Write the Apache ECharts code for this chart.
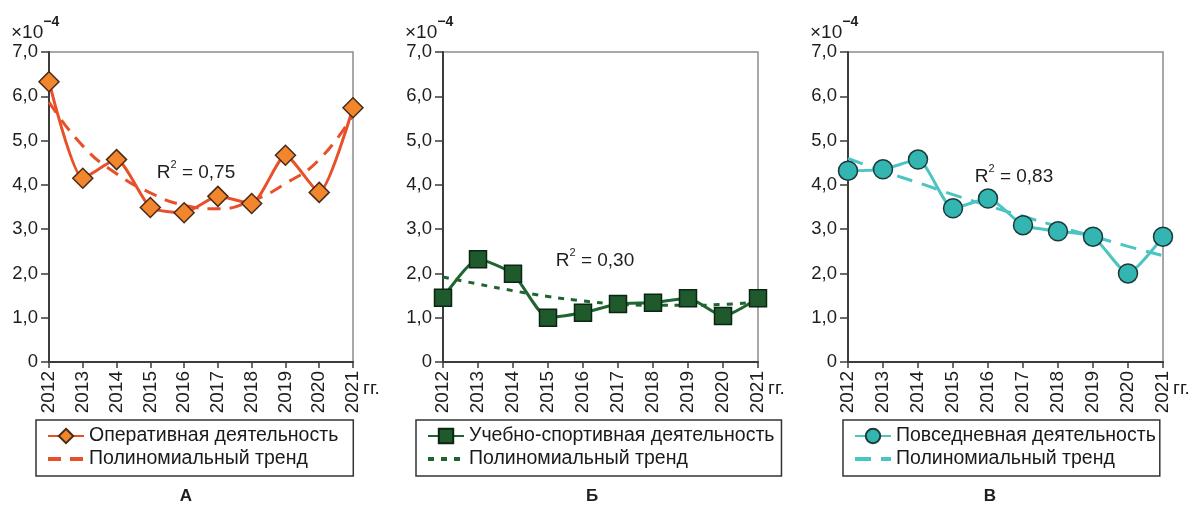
<!DOCTYPE html>
<html>
<head>
<meta charset="utf-8">
<script src="https://cdn.jsdelivr.net/npm/echarts@6/dist/echarts.min.js"></script>
<style>
  html, body { margin: 0; padding: 0; background: #fff; }
  #chart { width: 1194px; height: 508px; }
</style>
</head>
<body>
<div id="chart"></div>
<script>
// Years on the horizontal axis
const years = ['2012', '2013', '2014', '2015', '2016', '2017', '2018', '2019', '2020', '2021'];

// Values in units of 10^-4
const operativeValues = [6.33, 4.15, 4.57, 3.49, 3.37, 3.74, 3.58, 4.67, 3.83, 5.74];
const operativeTrend  = [5.87, 4.88, 4.25, 3.82, 3.54, 3.46, 3.64, 4.03, 4.57, 5.58];

const trainingValues  = [1.45, 2.32, 1.99, 1.00, 1.11, 1.31, 1.34, 1.44, 1.04, 1.44];
const trainingTrend   = [1.92, 1.76, 1.61, 1.48, 1.38, 1.31, 1.28, 1.28, 1.30, 1.35];

const dailyValues     = [4.32, 4.35, 4.57, 3.47, 3.69, 3.09, 2.95, 2.83, 2.00, 2.83];
const dailyTrend      = [4.60, 4.31, 4.05, 3.78, 3.53, 3.29, 3.06, 2.84, 2.61, 2.40];

// Texts
const seriesNames = ['Оперативная деятельность', 'Учебно-спортивная деятельность', 'Повседневная деятельность'];
const trendLabel = 'Полиномиальный тренд';
const r2Labels = ['0,75', '0,30', '0,83'];
const panelLetters = ['А', 'Б', 'В'];

const FONT = '"Liberation Sans", Arial, Helvetica, sans-serif';

// Layout of the three panels
const panels = [
  { left: 49,  width: 304, legendLeft: 36,  legendPadRight: 15, r2x: 196,  r2y: 169, letterX: 186 },
  { left: 443, width: 315, legendLeft: 416, legendPadRight: 7,  r2x: 595,  r2y: 257, letterX: 592 },
  { left: 848, width: 315, legendLeft: 843, legendPadRight: 4,  r2x: 1014, r2y: 173, letterX: 990 }
];
const GRID_TOP = 52, GRID_H = 310;

const styles = [
  { line: '#E8502A', fill: '#F2862C', border: '#4a2a18', symbol: 'diamond', size: 20,
    trendDash: [13, 9] },
  { line: '#1F6530', fill: '#1E5A2C', border: '#0c2412', symbol: 'rect', size: 17,
    trendDash: [6, 7] },
  { line: '#4CC4C2', fill: '#33B6B1', border: '#1b3a3a', symbol: 'circle', size: 19,
    trendDash: [16, 10] }
];
const valueSets = [operativeValues, trainingValues, dailyValues];
const trendSets = [operativeTrend, trainingTrend, dailyTrend];

const grid = [], xAxis = [], yAxis = [], series = [], legend = [], graphic = [];

panels.forEach((p, i) => {
  const st = styles[i];
  grid.push({
    left: p.left, top: GRID_TOP, width: p.width, height: GRID_H,
    show: true, borderColor: '#8c8c8c', borderWidth: 1.5, backgroundColor: 'transparent'
  });
  xAxis.push({
    type: 'category', gridIndex: i, data: years, boundaryGap: false,
    axisLine: { lineStyle: { color: '#3c3c3c', width: 2 } },
    axisTick: { show: true, length: 6, lineStyle: { color: '#3c3c3c', width: 1.5 } },
    axisLabel: { rotate: 90, fontFamily: FONT, fontSize: 19, color: '#1e1e1e', margin: 9 },
    splitLine: { show: false }
  });
  yAxis.push({
    type: 'value', gridIndex: i, min: 0, max: 7, interval: 1,
    axisLine: { show: true, lineStyle: { color: '#3c3c3c', width: 2 } },
    axisTick: { show: true, length: 8, lineStyle: { color: '#3c3c3c', width: 1.5 } },
    axisLabel: {
      fontFamily: FONT, fontSize: 18.5, color: '#1e1e1e', margin: 11,
      formatter: v => v === 0 ? '0' : v.toFixed(1).replace('.', ',')
    },
    splitLine: { show: false }
  });

  const trendName = trendLabel + ' ' + panelLetters[i];
  series.push({
    name: trendName, type: 'line', xAxisIndex: i, yAxisIndex: i,
    data: trendSets[i], smooth: 0.5, symbol: 'none', z: 2,
    lineStyle: { color: st.line, width: 3, type: st.trendDash },
    itemStyle: { color: st.line }
  });
  series.push({
    name: seriesNames[i], type: 'line', xAxisIndex: i, yAxisIndex: i,
    data: valueSets[i], smooth: 0.2, z: 3,
    symbol: st.symbol, symbolSize: st.size,
    lineStyle: { color: st.line, width: 3 },
    itemStyle: { color: st.fill, borderColor: st.border, borderWidth: 1.5 }
  });

  legend.push({
    orient: 'vertical', left: p.legendLeft, top: 420,
    data: [
      { name: seriesNames[i] },
      { name: trendName, itemStyle: { opacity: 0 }, lineStyle: { width: 4 } }
    ],
    formatter: n => n.startsWith(trendLabel) ? trendLabel : n,
    backgroundColor: '#fff', borderColor: '#333', borderWidth: 1.5,
    padding: [6, p.legendPadRight, 7, 10], itemGap: 3, itemWidth: 36, itemHeight: 18,
    selectedMode: false,
    textStyle: { fontFamily: FONT, fontSize: 19.5, color: '#1a1a1a' }
  });

  // multiplier above the value axis
  graphic.push({
    type: 'text', left: p.left - 38, top: 15,
    style: {
      text: '{b|×10}{s|−4}',
      rich: {
        b: { fontFamily: FONT, fontSize: 19, fill: '#1e1e1e', padding: [12, 0, 0, 0] },
        s: { fontFamily: FONT, fontSize: 14, fill: '#1e1e1e', fontWeight: 'bold', padding: [0, 0, 9, 0] }
      }
    }
  });
  // unit after the last year
  graphic.push({
    type: 'text', left: p.left + p.width + 10, top: 379,
    style: { text: 'гг.', fontFamily: FONT, fontSize: 19, fill: '#1e1e1e' }
  });
  // coefficient of determination
  graphic.push({
    type: 'text', x: p.r2x, y: p.r2y,
    style: {
      text: '{r|R}{s|2}{r| = ' + r2Labels[i] + '}',
      align: 'center', verticalAlign: 'middle',
      rich: {
        r: { fontFamily: FONT, fontSize: 19, fill: '#1e1e1e', padding: [8, 0, 0, 0] },
        s: { fontFamily: FONT, fontSize: 11, fill: '#1e1e1e', padding: [0, 0, 9, 0] }
      }
    }
  });
  // panel letter
  graphic.push({
    type: 'text', x: p.letterX, y: 496,
    style: {
      text: panelLetters[i], align: 'center', verticalAlign: 'middle',
      fontFamily: FONT, fontSize: 17, fontWeight: 'bold', fill: '#1e1e1e'
    }
  });
});

const chart = echarts.init(document.getElementById('chart'), null, { renderer: 'canvas' });
chart.setOption({
  backgroundColor: '#fff',
  animation: false,
  grid, xAxis, yAxis, series, legend, graphic
});
</script>
</body>
</html>
